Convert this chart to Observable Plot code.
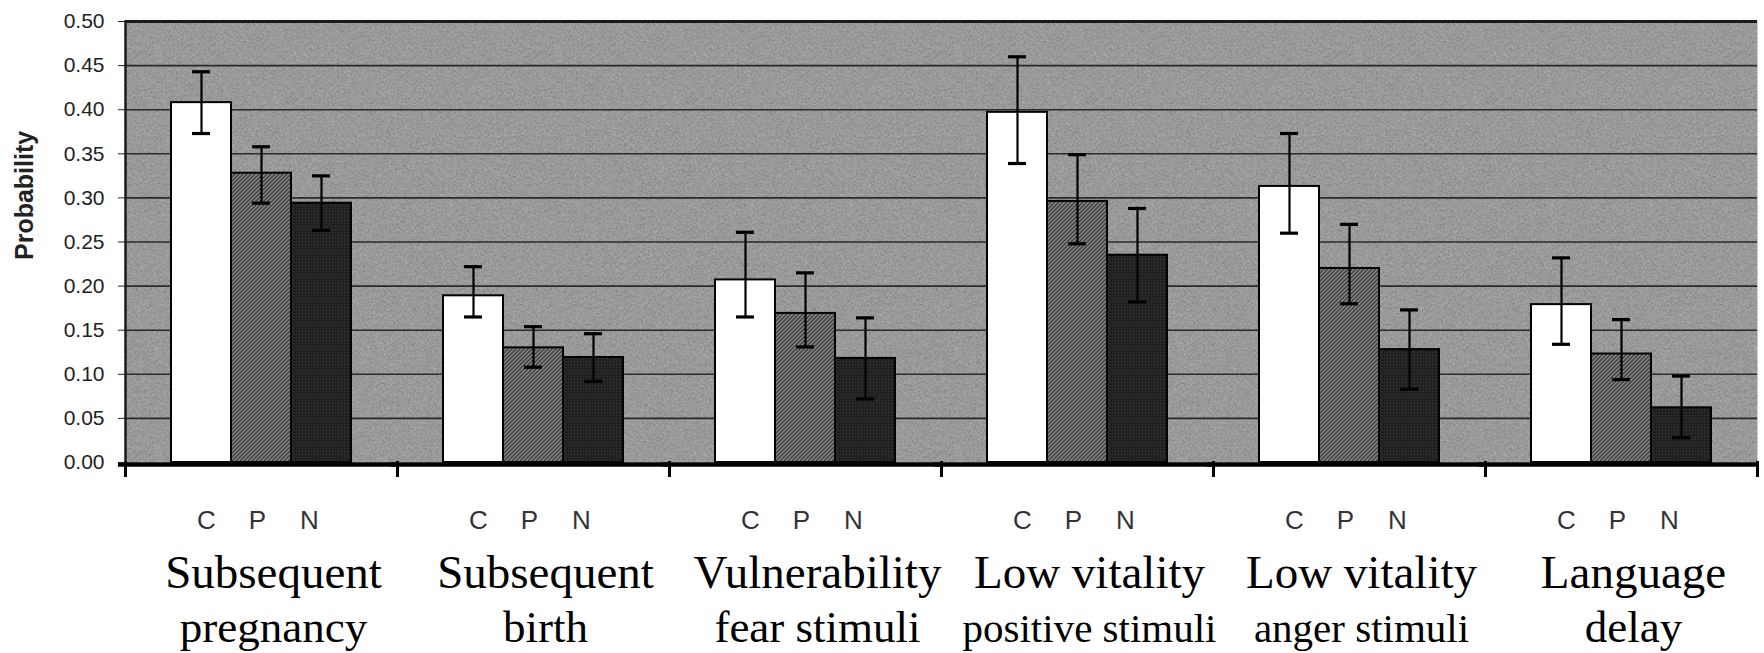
<!DOCTYPE html>
<html>
<head>
<meta charset="utf-8">
<script src="https://cdn.jsdelivr.net/npm/d3@7"></script>
<script src="https://cdn.jsdelivr.net/npm/@observablehq/plot@0.6"></script>
<style>
  html, body { margin: 0; padding: 0; background: #ffffff; }
  #chart svg { display: block; overflow: visible; }
</style>
</head>
<body>
<svg width="0" height="0" style="position:absolute">
  <defs>
    <filter id="noise" x="0" y="0" width="100%" height="100%">
      <feTurbulence type="fractalNoise" baseFrequency="0.85" numOctaves="2" seed="7"/>
      <feColorMatrix type="matrix" values="0 0 0 0 0  0 0 0 0 0  0 0 0 0 0  1.8 0 0 0 -0.6"/>
    </filter>
    <pattern id="bgTex" patternUnits="userSpaceOnUse" width="400" height="400">
      <rect width="400" height="400" fill="#b2b2b2"/>
      <rect width="400" height="400" fill="#000" filter="url(#noise)" opacity="0.45"/>
    </pattern>
    <pattern id="hatchP" patternUnits="userSpaceOnUse" width="4" height="4">
      <rect width="4" height="4" fill="#888888"/>
      <path d="M-1,1 l2,-2 M0,4 l4,-4 M3,5 l2,-2" stroke="#3a3a3a" stroke-width="1.3"/>
    </pattern>
    <pattern id="darkN" patternUnits="userSpaceOnUse" width="3" height="3">
      <rect width="3" height="3" fill="#212121"/>
      <rect x="1" y="1" width="1" height="1" fill="#3c3c3c"/>
    </pattern>
  </defs>
</svg>
<div id="chart"></div>
<script>
// ---- data ----
const groupKeys = ["Subsequent pregnancy", "Subsequent birth", "Vulnerability fear stimuli",
  "Low vitality positive stimuli", "Low vitality anger stimuli", "Language delay"];
const labelLine1 = ["Subsequent", "Subsequent", "Vulnerability", "Low vitality", "Low vitality", "Language"];
const labelLine2 = ["pregnancy", "birth", "fear stimuli", "positive stimuli", "anger stimuli", "delay"];
const series = ["C", "P", "N"];

const valueC = [0.408, 0.189, 0.207, 0.397, 0.313, 0.179];
const lowC   = [0.373, 0.165, 0.165, 0.339, 0.260, 0.134];
const highC  = [0.443, 0.222, 0.261, 0.460, 0.373, 0.232];

const valueP = [0.328, 0.130, 0.169, 0.296, 0.220, 0.123];
const lowP   = [0.294, 0.108, 0.131, 0.248, 0.180, 0.094];
const highP  = [0.358, 0.154, 0.215, 0.349, 0.270, 0.162];

const valueN = [0.294, 0.119, 0.118, 0.235, 0.128, 0.062];
const lowN   = [0.263, 0.092, 0.072, 0.182, 0.083, 0.028];
const highN  = [0.325, 0.146, 0.164, 0.288, 0.173, 0.098];

const yTicks = [0, 0.05, 0.10, 0.15, 0.20, 0.25, 0.30, 0.35, 0.40, 0.45, 0.50];
const yLabel = "Probability";

// ---- tables ----
const seriesData = {
  C: [valueC, lowC, highC],
  P: [valueP, lowP, highP],
  N: [valueN, lowN, highN]
};
const rows = [];
groupKeys.forEach((g, i) => {
  series.forEach(s => {
    const [v, lo, hi] = seriesData[s];
    rows.push({group: g, series: s, value: v[i], lo: lo[i], hi: hi[i]});
  });
});
const groupRows = groupKeys.map((g, i) => ({group: g, line1: labelLine1[i], line2: labelLine2[i]}));

const sans = "Arial, 'Liberation Sans', sans-serif";
const serif = "'Liberation Serif', 'Times New Roman', serif";
const letterDx = {C: 5, P: -4, N: -12};

const chart = Plot.plot({
  width: 1764,
  height: 653,
  marginLeft: 124,
  marginRight: 7,
  marginTop: 21,
  marginBottom: 191,
  style: {fontFamily: sans, background: "#ffffff", color: "#111"},
  fx: {domain: groupKeys, padding: 0, axis: null},
  x: {domain: series, paddingInner: 0, paddingOuter: 0.73, align: 0.5, axis: null},
  y: {domain: [0, 0.5], axis: null},
  color: {type: "ordinal", domain: series, range: ["#ffffff", "url(#hatchP)", "url(#darkN)"]},
  marks: [
    Plot.frame({fill: "url(#bgTex)", stroke: null, facet: "super"}),
    Plot.gridY(yTicks.filter(t => t > 0 && t < 0.5), {stroke: "#2a2a2a", strokeOpacity: 1, strokeWidth: 1.6}),
    Plot.ruleY([0.5], {stroke: "#1a1a1a", strokeWidth: 3}),
    Plot.frame({anchor: "left", facetAnchor: "left", stroke: "#1a1a1a", strokeWidth: 2.5}),
    Plot.barY(rows, {fx: "group", x: "series", y: "value", fill: "series", stroke: "#000", strokeWidth: 2}),
    Plot.ruleX(rows, {fx: "group", x: "series", y1: "lo", y2: "hi", stroke: "#000", strokeWidth: 2.2}),
    Plot.tickY(rows, {fx: "group", x: "series", y: "hi", stroke: "#000", strokeWidth: 3.2, insetLeft: 21, insetRight: 21}),
    Plot.tickY(rows, {fx: "group", x: "series", y: "lo", stroke: "#000", strokeWidth: 3.2, insetLeft: 21, insetRight: 21}),
    Plot.ruleY([0], {stroke: "#000", strokeWidth: 4.5, dy: 2, insetLeft: -7}),
    Plot.frame({anchor: "left", stroke: "#000", strokeWidth: 3, insetTop: 441, insetBottom: -13}),
    Plot.frame({anchor: "right", stroke: "#000", strokeWidth: 3, insetTop: 441, insetBottom: -13}),
    Plot.axisY(yTicks, {
      tickSize: 7, tickPadding: 14, fontSize: 21, stroke: "#222", fill: "#222",
      tickFormat: d3.format(".2f"), label: null
    }),
    Plot.text([yLabel], {
      frameAnchor: "left", facetAnchor: "left", rotate: -90, dx: -101, dy: 18,
      fontSize: 25, fontWeight: "bold", fill: "#222", letterSpacing: 1
    }),
    ...series.map(s => Plot.text(rows.filter(d => d.series === s), {
      fx: "group", x: "series", text: "series", frameAnchor: "bottom", lineAnchor: "bottom",
      dy: 66, dx: letterDx[s], fontSize: 26, fill: "#333"
    })),
    Plot.text(groupRows, {
      fx: "group", text: "line1", frameAnchor: "bottom", lineAnchor: "bottom",
      dy: 125, dx: 12, fontSize: 47, fontFamily: serif, fill: "#000"
    }),
    Plot.text(groupRows, {
      fx: "group", text: "line2", frameAnchor: "bottom", lineAnchor: "bottom",
      dy: 179, dx: 12, fontSize: d => d.line2.length >= 13 ? 41 : 45, fontFamily: serif, fill: "#000"
    })
  ]
});
document.getElementById("chart").appendChild(chart);
</script>
</body>
</html>
